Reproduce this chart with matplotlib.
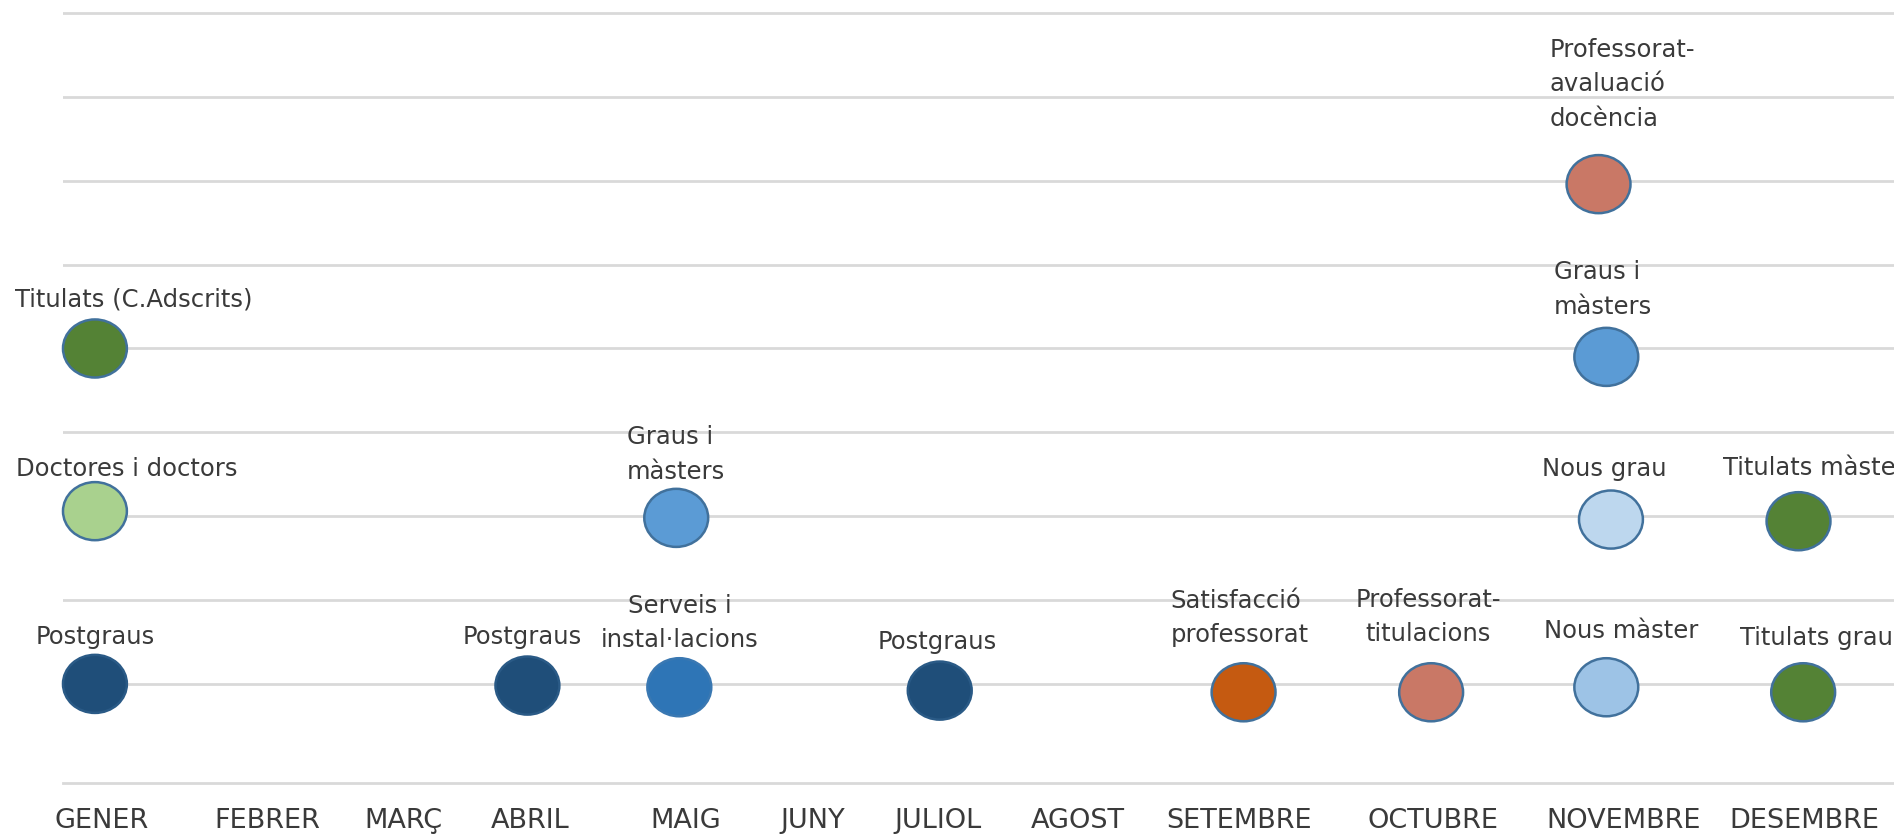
import matplotlib
matplotlib.use("Agg")
import matplotlib.pyplot as plt
from matplotlib.path import Path
from matplotlib.transforms import Affine2D
import numpy as np

plt.rcParams['font.family'] = ['DejaVu Sans']

# ---- data ----
months = ["GENER", "FEBRER", "MARÇ", "ABRIL", "MAIG", "JUNY", "JULIOL",
          "AGOST", "SETEMBRE", "OCTUBRE", "NOVEMBRE", "DESEMBRE"]
month_pos = [1.04, 2.11, 2.99, 3.81, 4.81, 5.63, 6.44, 7.34, 8.38, 9.63, 10.86, 12.03]

event_labels = ["Postgraus", "Doctores i doctors", "Titulats (C.Adscrits)",
                "Postgraus", "Serveis i\ninstal·lacions", "Graus i\nmàsters",
                "Postgraus", "Satisfacció\nprofessorat", "Professorat-\ntitulacions",
                "Nous màster", "Nous grau", "Graus i\nmàsters",
                "Professorat-\navaluació\ndocència", "Titulats grau", "Titulats màster"]
event_x = [1.00, 1.00, 1.00, 3.79, 4.77, 4.75, 6.45, 8.41, 9.62,
           10.75, 10.78, 10.75, 10.70, 12.02, 11.99]
event_y = [1.00, 2.03, 3.00, 0.99, 0.98, 1.99, 0.96, 0.95, 0.95,
           0.98, 1.98, 2.95, 3.98, 0.95, 1.97]

# ---- styles ----
fill_colors = ["#1F4E79", "#A9D18E", "#548235", "#1F4E79", "#2E75B6", "#5B9BD5",
               "#1F4E79", "#C55A11", "#C97866", "#9DC3E6", "#BDD7EE", "#5B9BD5",
               "#C97866", "#548235", "#548235"]
edge_colors = ["#2A5A86", "#41719C", "#41719C", "#2A5A86", "#3A78B2", "#41719C",
               "#2A5A86", "#41719C", "#41719C", "#41719C", "#41719C", "#41719C",
               "#41719C", "#41719C", "#41719C"]
# label layout (pixels): horizontal offset, height of last text line centre above marker, alignment
lab_dx = [0, -79, -80, -5, 0, 0, -2, -4, -3, 15, -7, -3, -49, 13, -76]
lab_dy = [49, 44, 51, 51, 49, 48, 51, 59, 60, 58, 53, 52, 67, 56, 55]
lab_ha = ["center", "left", "left", "center", "center", "center", "center", "center",
          "center", "center", "center", "center", "left", "center", "left"]
lab_ma = ["center", "left", "left", "center", "center", "left", "center", "left",
          "center", "center", "center", "left", "left", "center", "left"]

W, H, DPI = 1894, 840, 100
fig = plt.figure(figsize=(W / DPI, H / DPI), dpi=DPI)
ax_left = 63 / W
ax_bottom = 57 / H
ax = fig.add_axes([ax_left, ax_bottom, 1 - ax_left, 1 - ax_bottom])

# elliptical marker (slightly wider than tall)
ell = Path.unit_circle().transformed(Affine2D().scale(1.1, 1.0))

ax.scatter(event_x, event_y, s=46 ** 2, marker=ell, c=fill_colors,
           edgecolors=edge_colors, linewidths=1.8, zorder=3, clip_on=False)

txt_color = "#3A3A3A"
for lab, x, y, dx, dy, ha, ma in zip(event_labels, event_x, event_y,
                                      lab_dx, lab_dy, lab_ha, lab_ma):
    ax.annotate(lab, (x, y), xytext=(dx, dy - 14), textcoords="offset pixels",
                ha=ha, va="bottom", multialignment=ma, linespacing=1.56,
                fontsize=17.5, color=txt_color, annotation_clip=False, zorder=4)

ax.set_xlim(0.794, 12.606)
ax.set_ylim(0.409, 5.078)
ax.set_yticks(np.arange(1, 5.01, 0.5))
ax.yaxis.grid(True, color="#D9D9D9", linewidth=2)
ax.set_axisbelow(True)
ax.tick_params(axis="y", left=False, labelleft=False)
ax.set_xticks(month_pos, months)
ax.tick_params(axis="x", length=0, pad=18, labelsize=19.5, labelcolor=txt_color)
for side in ["left", "right", "top"]:
    ax.spines[side].set_visible(False)
ax.spines["bottom"].set_color("#D9D9D9")
ax.spines["bottom"].set_linewidth(2)

fig.savefig("out.png", dpi=DPI)
